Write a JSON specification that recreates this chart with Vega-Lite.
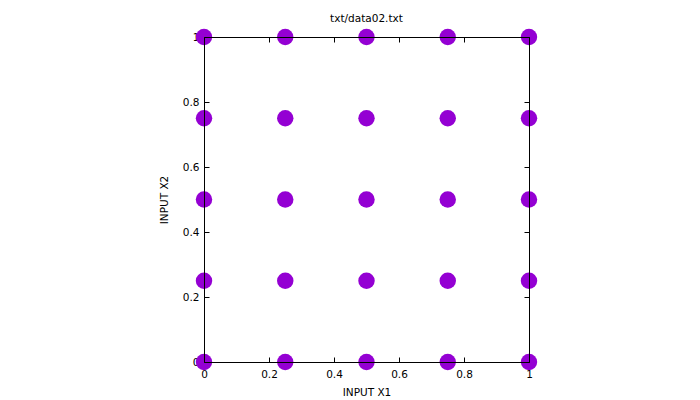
{
  "$schema": "https://vega.github.io/schema/vega-lite/v6.json",
  "width": 325,
  "height": 325,
  "autosize": "none",
  "padding": {"left": 204, "top": 37, "right": 171, "bottom": 38},
  "background": "white",
  "config": {
    "view": {"stroke": null},
    "font": "DejaVu Sans",
    "axis": {"grid": false, "labelFont": "DejaVu Sans", "titleFont": "DejaVu Sans", "labelFontSize": 10.5, "titleFontSize": 10.5, "titleFontWeight": "normal", "labelColor": "black", "titleColor": "black", "domainColor": "black", "tickColor": "black"}
  },
  "title": {"text": "txt/data02.txt", "fontSize": 10.5, "fontWeight": "normal", "font": "DejaVu Sans", "color": "black", "anchor": "middle", "offset": 4},
  "data": {"values": [
    {"x1": 0, "x2": 0}, {"x1": 0.25, "x2": 0}, {"x1": 0.5, "x2": 0}, {"x1": 0.75, "x2": 0}, {"x1": 1, "x2": 0},
    {"x1": 0, "x2": 0.25}, {"x1": 0.25, "x2": 0.25}, {"x1": 0.5, "x2": 0.25}, {"x1": 0.75, "x2": 0.25}, {"x1": 1, "x2": 0.25},
    {"x1": 0, "x2": 0.5}, {"x1": 0.25, "x2": 0.5}, {"x1": 0.5, "x2": 0.5}, {"x1": 0.75, "x2": 0.5}, {"x1": 1, "x2": 0.5},
    {"x1": 0, "x2": 0.75}, {"x1": 0.25, "x2": 0.75}, {"x1": 0.5, "x2": 0.75}, {"x1": 0.75, "x2": 0.75}, {"x1": 1, "x2": 0.75},
    {"x1": 0, "x2": 1}, {"x1": 0.25, "x2": 1}, {"x1": 0.5, "x2": 1}, {"x1": 0.75, "x2": 1}, {"x1": 1, "x2": 1}
  ]},
  "resolve": {"axis": {"x": "independent", "y": "independent"}},
  "layer": [
    {
      "mark": {"type": "point", "filled": true, "shape": "circle", "size": 270, "color": "#9400D3", "opacity": 1},
      "encoding": {
        "x": {"field": "x1", "type": "quantitative", "scale": {"domain": [0, 1], "nice": false, "zero": false},
              "axis": {"orient": "bottom", "title": "INPUT X1", "values": [0, 0.2, 0.4, 0.6, 0.8, 1], "format": "~g", "domain": false, "ticks": false, "labelPadding": 7, "titlePadding": 8, "zindex": 0, "labelFlush": false, "labelOverlap": false}},
        "y": {"field": "x2", "type": "quantitative", "scale": {"domain": [0, 1], "nice": false, "zero": false},
              "axis": {"orient": "left", "title": "INPUT X2", "values": [0, 0.2, 0.4, 0.6, 0.8, 1], "format": "~g", "domain": false, "ticks": false, "labelPadding": 5, "titlePadding": 13, "zindex": 0, "labelFlush": false, "labelOverlap": false}}
      }
    },
    {
      "mark": {"type": "point", "opacity": 0},
      "encoding": {
        "x": {"field": "x1", "type": "quantitative",
              "axis": {"orient": "bottom", "title": null, "labels": false, "values": [0, 0.2, 0.4, 0.6, 0.8, 1], "domain": true, "ticks": true, "tickSize": -5, "zindex": 2}},
        "y": {"field": "x2", "type": "quantitative",
              "axis": {"orient": "left", "title": null, "labels": false, "values": [0, 0.2, 0.4, 0.6, 0.8, 1], "domain": true, "ticks": true, "tickSize": -5, "zindex": 2}}
      }
    },
    {
      "mark": {"type": "point", "opacity": 0},
      "encoding": {
        "x": {"field": "x1", "type": "quantitative",
              "axis": {"orient": "top", "title": null, "labels": false, "values": [0, 0.2, 0.4, 0.6, 0.8, 1], "domain": true, "ticks": true, "tickSize": -5, "zindex": 2}},
        "y": {"field": "x2", "type": "quantitative",
              "axis": {"orient": "right", "title": null, "labels": false, "values": [0, 0.2, 0.4, 0.6, 0.8, 1], "domain": true, "ticks": true, "tickSize": -5, "zindex": 2}}
      }
    }
  ]
}
